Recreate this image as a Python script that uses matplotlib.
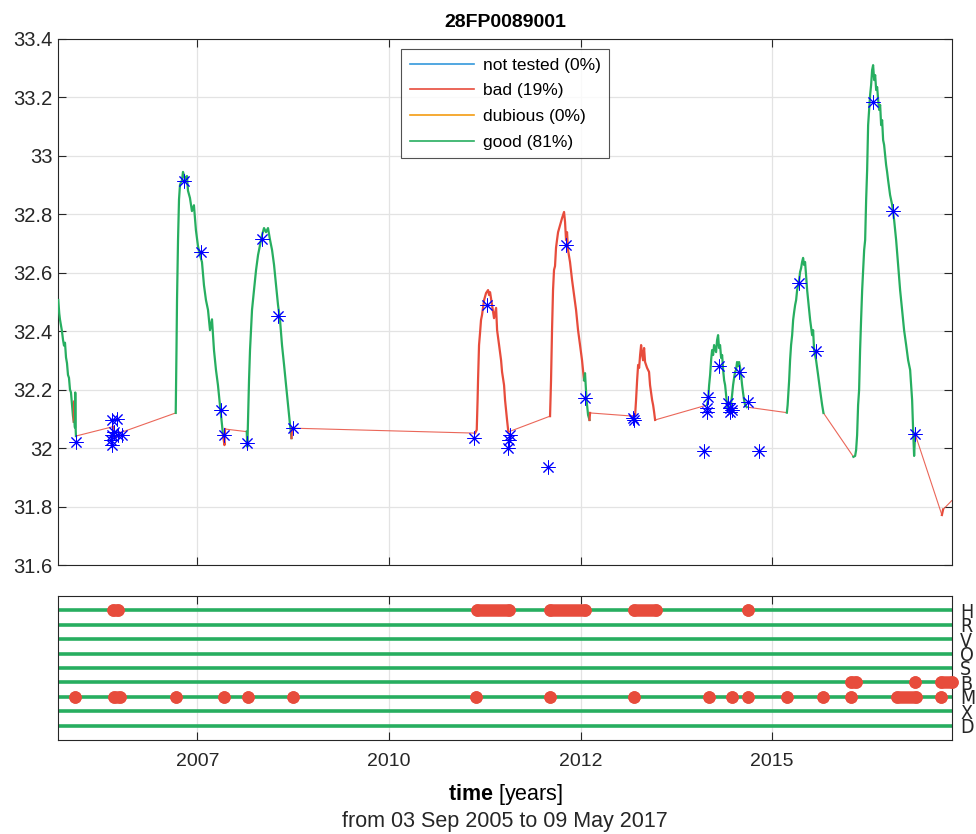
import numpy as np
import matplotlib.pyplot as plt
from matplotlib.lines import Line2D

plt.rcParams['font.family'] = ['Liberation Sans', 'DejaVu Sans']
plt.rcParams['mathtext.fontset'] = 'custom'
plt.rcParams['mathtext.rm'] = 'Liberation Sans'
plt.rcParams['mathtext.bf'] = 'Liberation Sans:bold'

platform = '28FP0089001'

# salinity record: decimal year, value, qc flag (1 good, 4 bad)
t_sal = np.array([
    2005.671, 2005.684, 2005.693, 2005.706, 2005.719, 2005.733, 2005.746, 2005.759,
    2005.772, 2005.785, 2005.798, 2005.811, 2005.824, 2005.837, 2005.850, 2005.863,
    2005.874, 2005.878, 2005.884, 2005.889, 2005.893, 2005.899, 2005.902,
    2006.387, 2006.394, 2006.440, 2006.478,
    2007.206, 2007.216, 2007.223, 2007.236, 2007.249, 2007.262, 2007.288, 2007.301,
    2007.327, 2007.353, 2007.366, 2007.392, 2007.418, 2007.444, 2007.470, 2007.497,
    2007.523, 2007.549, 2007.575, 2007.601, 2007.628, 2007.654, 2007.680, 2007.706,
    2007.732, 2007.758, 2007.784, 2007.811, 2007.824, 2007.843, 2007.850,
    2008.134, 2008.142, 2008.151, 2008.164, 2008.177, 2008.203, 2008.229, 2008.256,
    2008.282, 2008.308, 2008.334, 2008.360, 2008.386, 2008.412, 2008.439, 2008.465,
    2008.491, 2008.517, 2008.543, 2008.569, 2008.595, 2008.622, 2008.648, 2008.674,
    2008.700, 2008.719, 2008.726,
    2011.118, 2011.140, 2011.151, 2011.157, 2011.170, 2011.183, 2011.196, 2011.209,
    2011.236, 2011.262, 2011.288, 2011.301, 2011.314, 2011.340, 2011.366, 2011.393,
    2011.406, 2011.432, 2011.458, 2011.471, 2011.497, 2011.510, 2011.523, 2011.536,
    2011.553,
    2012.098, 2012.111, 2012.124, 2012.137, 2012.150, 2012.163, 2012.176, 2012.189,
    2012.203, 2012.229, 2012.255, 2012.281, 2012.294, 2012.307, 2012.320, 2012.333,
    2012.359, 2012.386, 2012.412, 2012.438, 2012.464, 2012.490, 2012.516, 2012.542,
    2012.555, 2012.575, 2012.595, 2012.614, 2012.621,
    2013.187, 2013.209, 2013.222, 2013.236, 2013.249, 2013.262, 2013.275, 2013.288,
    2013.301, 2013.314, 2013.327, 2013.340, 2013.366, 2013.392, 2013.405, 2013.432,
    2013.445, 2013.458, 2013.471,
    2014.150, 2014.164, 2014.177, 2014.190, 2014.203, 2014.216, 2014.229, 2014.242,
    2014.268, 2014.281, 2014.294, 2014.307, 2014.320, 2014.334, 2014.347, 2014.360,
    2014.373, 2014.386, 2014.399, 2014.412, 2014.425, 2014.451, 2014.477, 2014.490,
    2014.503, 2014.516, 2014.529, 2014.542, 2014.555, 2014.568, 2014.582, 2014.595,
    2014.608, 2014.621, 2014.634, 2014.647, 2014.669,
    2015.193, 2015.203, 2015.223, 2015.235, 2015.248, 2015.262, 2015.275, 2015.288,
    2015.301, 2015.314, 2015.327, 2015.340, 2015.353, 2015.366, 2015.379, 2015.392,
    2015.405, 2015.418, 2015.431, 2015.444, 2015.458, 2015.471, 2015.484, 2015.497,
    2015.523, 2015.536, 2015.549, 2015.575, 2015.601, 2015.627, 2015.654, 2015.671,
    2016.063, 2016.085, 2016.098, 2016.111, 2016.124, 2016.137, 2016.150, 2016.163,
    2016.177, 2016.190, 2016.203, 2016.216, 2016.229, 2016.242, 2016.255, 2016.268,
    2016.281, 2016.294, 2016.307, 2016.320, 2016.334, 2016.347, 2016.360, 2016.373,
    2016.386, 2016.399, 2016.412, 2016.425, 2016.438, 2016.451, 2016.464, 2016.477,
    2016.490, 2016.503, 2016.516, 2016.542, 2016.569, 2016.595, 2016.621, 2016.647,
    2016.673, 2016.699, 2016.725, 2016.752, 2016.778, 2016.804, 2016.817, 2016.830,
    2016.843, 2016.856, 2016.869,
    2017.219, 2017.235, 2017.347,
])
s_sal = np.array([
    32.506, 32.460, 32.440, 32.420, 32.400, 32.370, 32.350, 32.360,
    32.310, 32.290, 32.250, 32.240, 32.200, 32.190, 32.150, 32.110,
    32.090, 32.160, 32.090, 32.070, 32.190, 32.060, 32.041,
    32.073, 32.035, 32.040, 32.052,
    32.120, 32.335, 32.506, 32.710, 32.850, 32.900, 32.916, 32.944,
    32.920, 32.930, 32.880, 32.855, 32.810, 32.830, 32.745, 32.690,
    32.660, 32.636, 32.557, 32.506, 32.472, 32.403, 32.440, 32.335,
    32.267, 32.215, 32.147, 32.079, 32.044, 32.010, 32.065,
    32.056, 32.004, 32.096, 32.232, 32.335, 32.472, 32.540, 32.609,
    32.660, 32.694, 32.728, 32.752, 32.738, 32.752, 32.711, 32.677,
    32.626, 32.557, 32.489, 32.438, 32.352, 32.284, 32.215, 32.147,
    32.079, 32.034, 32.068,
    32.051, 32.062, 32.164, 32.232, 32.352, 32.393, 32.438, 32.455,
    32.506, 32.530, 32.540, 32.523, 32.533, 32.489, 32.444, 32.479,
    32.403, 32.352, 32.300, 32.260, 32.215, 32.164, 32.130, 32.096,
    32.055,
    32.109, 32.232, 32.403, 32.540, 32.609, 32.622, 32.684, 32.711,
    32.738, 32.762, 32.786, 32.807, 32.773, 32.711, 32.738, 32.677,
    32.636, 32.574, 32.523, 32.472, 32.403, 32.352, 32.300, 32.232,
    32.256, 32.164, 32.113, 32.096, 32.120,
    32.109, 32.109, 32.164, 32.232, 32.284, 32.274, 32.318, 32.352,
    32.318, 32.300, 32.342, 32.294, 32.274, 32.260, 32.215, 32.164,
    32.147, 32.123, 32.096,
    32.147, 32.164, 32.215, 32.250, 32.301, 32.335, 32.318, 32.352,
    32.328, 32.369, 32.386, 32.342, 32.352, 32.308, 32.318, 32.267,
    32.232, 32.215, 32.181, 32.147, 32.130, 32.123, 32.181, 32.215,
    32.239, 32.260, 32.267, 32.294, 32.280, 32.294, 32.274, 32.250,
    32.215, 32.188, 32.164, 32.147, 32.140,
    32.121, 32.147, 32.232, 32.300, 32.352, 32.386, 32.438, 32.465,
    32.489, 32.506, 32.540, 32.557, 32.574, 32.602, 32.615, 32.636,
    32.650, 32.626, 32.636, 32.591, 32.540, 32.506, 32.472, 32.438,
    32.386, 32.403, 32.335, 32.300, 32.250, 32.198, 32.147, 32.120,
    31.970, 31.973, 31.993, 32.044, 32.147, 32.198, 32.335, 32.438,
    32.540, 32.609, 32.677, 32.711, 32.848, 32.950, 33.104, 33.156,
    33.207, 33.241, 33.292, 33.309, 33.258, 33.275, 33.224, 33.234,
    33.190, 33.156, 33.173, 33.104, 33.121, 33.053, 33.036, 33.002,
    32.968, 32.944, 32.916, 32.865, 32.831, 32.779, 32.711, 32.626,
    32.540, 32.472, 32.403, 32.352, 32.300, 32.267, 32.215, 32.164,
    32.062, 31.973, 32.048,
    31.771, 31.790, 31.820,
])
q_sal = np.array(
    [1] * 17 + [4, 4] + [1] * 4
    + [4] * 4
    + [1] * 29 + [4, 4]
    + [4] + [1] * 25 + [4]
    + [4] * 25
    + [4] * 24 + [1] * 4 + [4]
    + [4] * 19
    + [1] * 37
    + [1] * 32
    + [1] * 51
    + [4] * 3
)

# reference samples (asterisks)
t_ref = [2005.902, 2006.369, 2006.442, 2006.369, 2006.455, 2006.500, 2006.360,
         2006.373, 2006.399, 2007.314, 2007.536, 2007.798, 2007.841, 2008.134,
         2008.334, 2008.547, 2008.743, 2011.109, 2011.271, 2011.566, 2011.576,
         2011.553, 2012.076, 2012.304, 2012.556, 2013.187, 2013.190, 2014.112,
         2014.168, 2014.155, 2014.155, 2014.308, 2014.429, 2014.451, 2014.451,
         2014.474, 2014.573, 2014.683, 2014.834, 2015.353, 2015.576, 2016.325,
         2016.586, 2016.870]
s_ref = [32.022, 32.096, 32.098, 32.044, 32.044, 32.044, 32.027,
         32.010, 32.055, 32.913, 32.670, 32.130, 32.044, 32.016,
         32.715, 32.451, 32.067, 32.033, 32.489, 32.027, 32.044,
         31.999, 31.936, 32.694, 32.170, 32.101, 32.097, 31.990,
         32.175, 32.136, 32.124, 32.280, 32.153, 32.136, 32.124,
         32.130, 32.261, 32.158, 31.990, 32.564, 32.332, 33.182,
         32.810, 32.048]

legend_labels = ['not tested (0%)', 'bad (19%)', 'dubious (0%)', 'good (81%)']

# qc tests and the time spans where each one failed
test_names = ['H', 'R', 'V', 'O', 'S', 'B', 'M', 'X', 'D']
fail_H = [(2006.39, 2006.45), (2011.14, 2011.56), (2012.10, 2012.56),
          (2013.20, 2013.48), (2014.68, 2014.68)]
fail_B = [(2016.03, 2016.10), (2016.87, 2016.87), (2017.21, 2017.35)]
fail_M = [(2005.89, 2005.89), (2006.40, 2006.48), (2007.21, 2007.21),
          (2007.84, 2007.84), (2008.15, 2008.15), (2008.74, 2008.74),
          (2011.13, 2011.13), (2012.10, 2012.10), (2013.20, 2013.20),
          (2014.18, 2014.18), (2014.47, 2014.47), (2014.68, 2014.68),
          (2015.20, 2015.20), (2015.66, 2015.66), (2016.03, 2016.03),
          (2016.63, 2016.88), (2017.21, 2017.21)]

xtick_pos = [2007.49, 2009.995, 2012.5, 2015.0]
xtick_labels = ['2007', '2010', '2012', '2015']
ytick_pos = [31.6, 31.8, 32.0, 32.2, 32.4, 32.6, 32.8, 33.0, 33.2, 33.4]
ytick_labels = ['31.6', '31.8', '32', '32.2', '32.4', '32.6', '32.8', '33', '33.2', '33.4']

c_blue = '#3498DB'
c_red = '#E74C3C'
c_orange = '#F39C12'
c_green = '#27AE60'
axcol = '#262626'
gridcol = '#e3e3e3'

fig = plt.figure(figsize=(9.76, 8.34), dpi=100)
ax1 = fig.add_axes([0.0597, 0.3225, 0.9157, 0.6313])
ax2 = fig.add_axes([0.0597, 0.1127, 0.9157, 0.1727])

# --- salinity panel ---
# split the record into runs: gaps are joined by a thin red line,
# contiguous data drawn in the colour of its qc flag
runs = []
for i in range(len(t_sal) - 1):
    if t_sal[i + 1] - t_sal[i] > 0.1:
        style = 'gap'
    else:
        style = 'good' if q_sal[i + 1] == 1 else 'bad'
    if runs and runs[-1][0] == style and runs[-1][2] == i:
        runs[-1][2] = i + 1
    else:
        runs.append([style, i, i + 1])

for style, i0, i1 in runs:
    x = t_sal[i0:i1 + 1]
    y = s_sal[i0:i1 + 1]
    if style == 'gap':
        ax1.plot(x, y, color=c_red, lw=0.8, alpha=0.85, zorder=2)
    elif style == 'good':
        ax1.plot(x, y, color=c_green, lw=1.6, zorder=3)
    else:
        ax1.plot(x, y, color=c_red, lw=1.6, zorder=3)

ax1.plot(t_ref, s_ref, linestyle='none', marker=(8, 2, 0), markersize=10,
         markeredgecolor='#0000ff', markeredgewidth=0.7, zorder=4)

ax1.set_xlim(2005.671, 2017.351)
ax1.set_ylim(31.6, 33.4)
ax1.set_yticks(ytick_pos)
ax1.set_yticklabels(ytick_labels)
ax1.set_xticks(xtick_pos)
ax1.set_xticklabels([])
ax1.grid(True, color=gridcol, lw=0.9)
ax1.set_axisbelow(True)
ax1.set_title(platform, fontsize=14, fontweight='bold', pad=8, color='black')

handles = [Line2D([], [], color=c, lw=1.2) for c in (c_blue, c_red, c_orange, c_green)]
leg = ax1.legend(handles, legend_labels, loc='upper center', bbox_to_anchor=(0.5, 0.980),
                 fontsize=12.5, frameon=True, fancybox=False, edgecolor=axcol,
                 handlelength=3.7, handletextpad=0.5, labelspacing=0.6,
                 borderpad=0.5, borderaxespad=0)
leg.get_frame().set_linewidth(0.8)

# --- qc test panel ---
rows = {name: k + 1 for k, name in enumerate(test_names)}
fails = {'H': fail_H, 'B': fail_B, 'M': fail_M}
for name in test_names:
    ax2.plot([t_sal[0], t_sal[-1]], [rows[name], rows[name]], color=c_green,
             lw=2.6, solid_capstyle='butt', zorder=2)
for name, spans in fails.items():
    for a, b in spans:
        ax2.plot([a, b], [rows[name], rows[name]], color=c_red, lw=9,
                 solid_capstyle='round', marker='o', markersize=9,
                 markeredgewidth=0, zorder=3, clip_on=False)

ax2.set_xlim(2005.671, 2017.351)
ax2.set_ylim(10, 0)
ax2.set_xticks(xtick_pos)
ax2.set_xticklabels(xtick_labels)
ax2.set_yticks(range(1, len(test_names) + 1))
ax2.set_yticklabels(test_names, family='DejaVu Sans', fontstretch='condensed',
                    fontsize=14)
ax2.yaxis.tick_right()
ax2.tick_params(axis='y', length=0, pad=6)
ax2.grid(True, axis='x', color=gridcol, lw=0.9)
ax2.set_axisbelow(True)

for ax in (ax1, ax2):
    for sp in ax.spines.values():
        sp.set_color(axcol)
        sp.set_linewidth(0.8)
    ax.tick_params(axis='x', direction='in', top=True, bottom=True, length=6,
                   width=0.8, color=axcol, labelcolor=axcol, labelsize=14, pad=9)
ax1.tick_params(axis='y', direction='in', left=True, right=True, length=6,
                width=0.8, color=axcol, labelcolor=axcol, labelsize=14.5, pad=4)
ax2.tick_params(axis='y', labelcolor=axcol)

fig.text(0.5177, 0.0468, r'$\bf{time}$ [years]', ha='center', va='center',
         fontsize=15.5, color='black')
fig.text(0.5177, 0.0144, 'from 03 Sep 2005 to 09 May 2017', ha='center',
         va='center', fontsize=15.5, color=axcol)

fig.savefig('out.png', dpi=100)
